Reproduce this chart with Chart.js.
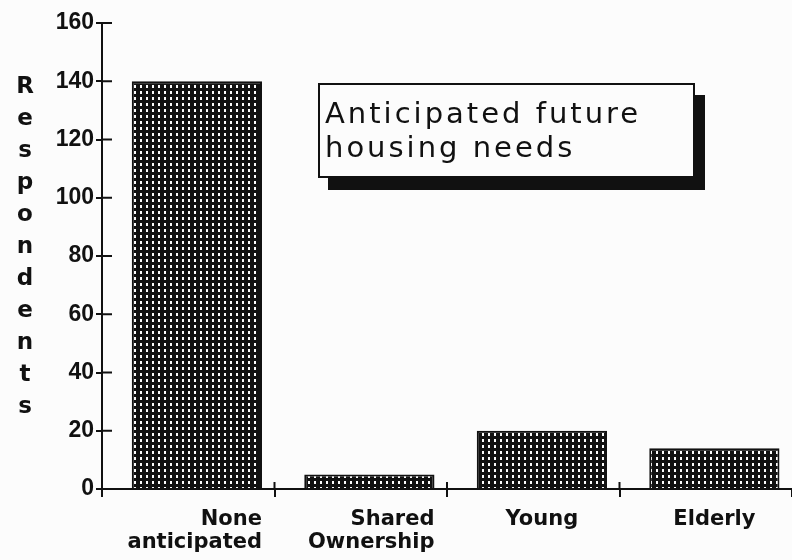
<!DOCTYPE html>
<html>
<head>
<meta charset="utf-8">
<script src="https://cdn.jsdelivr.net/npm/chart.js@4.4.1/dist/chart.umd.min.js"></script>
<style>
  body { margin: 0; background: #fcfcfc; }
  #wrap { position: relative; width: 792px; height: 560px; }
  #yTitle {
    position: absolute; left: 16px; top: 69px; width: 18px;
    font: bold 23px "DejaVu Sans"; line-height: 32px;
    word-break: break-all; text-align: center; color: #111;
  }
  #titleBox {
    position: absolute; left: 318px; top: 83px; width: 377px; height: 95px;
    box-sizing: border-box; border: 2px solid #111; background: #fcfcfc;
    box-shadow: 10px 12px 0 #111;
    padding: 11px 0 0 5px;
    font: 29px "DejaVu Sans"; letter-spacing: 3px; line-height: 34px; color: #111;
  }
</style>
</head>
<body>
<div id="wrap">
  <canvas id="chart" width="792" height="560"></canvas>
  <div id="yTitle">Respondents</div>
  <div id="titleBox">Anticipated future<br>housing needs</div>
</div>
<script>
// ===== DATA =====
const categories = [['None', 'anticipated'], ['Shared', 'Ownership'], ['Young'], ['Elderly']];
const respondents = [140, 5, 20, 14];
const yTicks = [0, 20, 40, 60, 80, 100, 120, 140, 160];

const INK = '#111';

// dotted halftone fill like the old bitmap bars
function makePattern() {
    const c = document.createElement('canvas');
    c.width = 6; c.height = 6;
    const g = c.getContext('2d');
    g.fillStyle = INK;
    g.fillRect(0, 0, 6, 6);
    g.fillStyle = '#fcfcfc';
    g.fillRect(2, 1, 2, 3);
    return g.createPattern(c, 'repeat');
}

// tick marks cross the axes, so draw the inner half too
const crossTicks = {
    id: 'crossTicks',
    afterDraw(chart) {
        const { ctx, chartArea, scales } = chart;
        ctx.save();
        ctx.strokeStyle = INK;
        ctx.lineWidth = 2;
        ctx.beginPath();
        scales.y.ticks.forEach(t => {
            const y = scales.y.getPixelForValue(t.value);
            ctx.moveTo(chartArea.left, y);
            ctx.lineTo(chartArea.left + 10, y);
        });
        const x = scales.x;
        for (let i = 1; i < categories.length; i++) {
            const px = (x.getPixelForValue(i - 1) + x.getPixelForValue(i)) / 2;
            ctx.moveTo(px, chartArea.bottom);
            ctx.lineTo(px, chartArea.bottom - 7);
        }
        ctx.stroke();
        ctx.restore();
    }
};

// category names sit under the bars: two-line names right-aligned to the bar, others centred
const catLabels = {
    id: 'catLabels',
    afterDraw(chart) {
        const ctx = chart.ctx;
        const bars = chart.getDatasetMeta(0).data;
        ctx.save();
        ctx.font = 'bold 21px "DejaVu Sans"';
        ctx.fillStyle = INK;
        ctx.textBaseline = 'alphabetic';
        categories.forEach((lines, i) => {
            const bar = bars[i];
            const multi = lines.length > 1;
            ctx.textAlign = multi ? 'right' : 'center';
            const x = multi ? bar.x + bar.width / 2 : bar.x;
            lines.forEach((t, j) => ctx.fillText(t, x, chart.chartArea.bottom + 36 + j * 23));
        });
        ctx.restore();
    }
};

const ctx = document.getElementById('chart').getContext('2d');
new Chart(ctx, {
    type: 'bar',
    data: {
        labels: categories,
        datasets: [{
            data: respondents.map((v, i) => ({ x: i, y: v })),
            xAxisID: 'xb',
            backgroundColor: makePattern(),
            borderColor: INK,
            borderWidth: 2,
            barPercentage: 0.755,
            categoryPercentage: 1
        }]
    },
    options: {
        responsive: false,
        animation: false,
        layout: { padding: { top: 23, left: 0, right: 0, bottom: 0 } },
        plugins: { legend: { display: false }, tooltip: { enabled: false } },
        scales: {
            xb: {
                type: 'linear',
                display: false,
                offset: false,
                min: -0.55,
                max: 3.45,
                ticks: { stepSize: 1, includeBounds: false }
            },
            x: {
                type: 'category',
                offset: true,
                grid: { offset: true, drawOnChartArea: false, color: INK, lineWidth: 2, tickLength: 8 },
                border: { display: true, color: INK, width: 2 },
                ticks: { display: false },
                afterFit(scale) { scale.height = 71; }
            },
            y: {
                min: 0,
                max: 160,
                afterBuildTicks(scale) { scale.ticks = yTicks.map(v => ({ value: v })); },
                grid: { drawOnChartArea: false, color: INK, lineWidth: 2, tickLength: 6 },
                border: { display: true, color: INK, width: 2 },
                ticks: { color: INK, padding: 2, font: { family: 'Liberation Sans', size: 23, weight: 'bold' } },
                afterFit(scale) { scale.width = 102; }
            }
        }
    },
    plugins: [crossTicks, catLabels]
});
</script>
</body>
</html>
